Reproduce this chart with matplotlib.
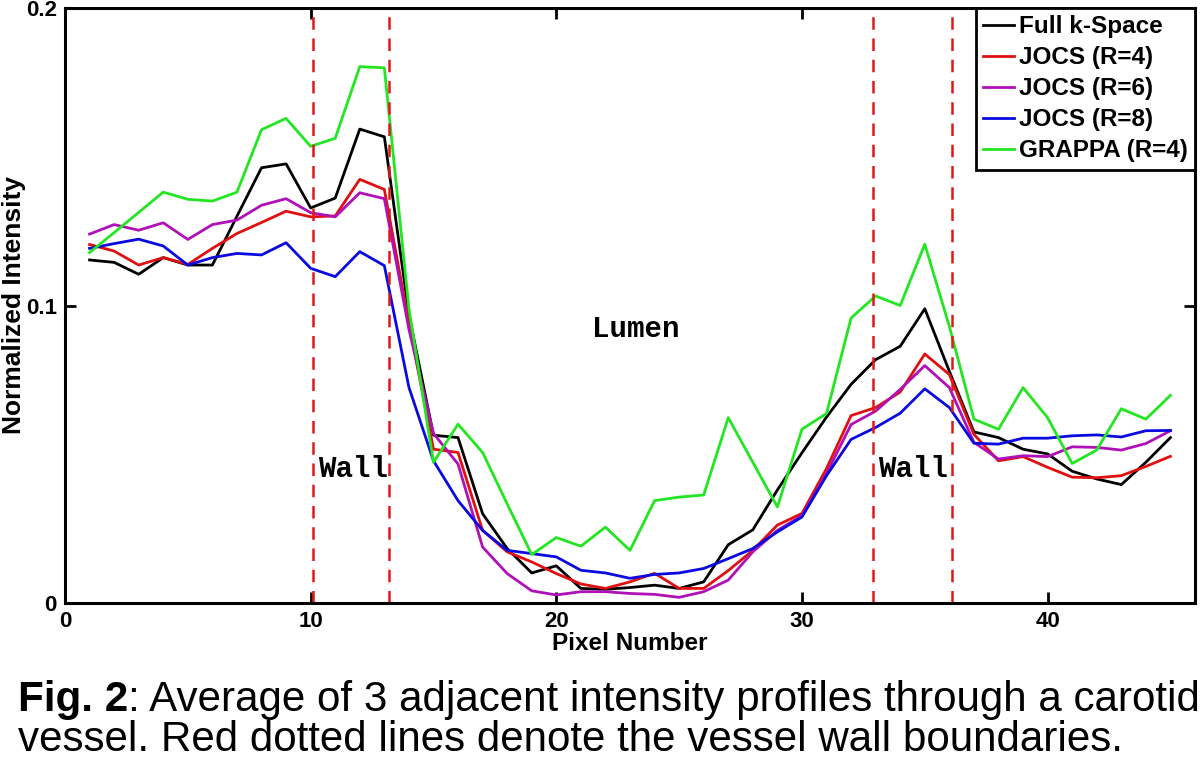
import matplotlib
matplotlib.use("Agg")
import matplotlib.pyplot as plt
import numpy as np

pixels = list(range(1, 46))
full_kspace = [0.1153, 0.1145, 0.1105, 0.1161, 0.1136, 0.1136, 0.1300, 0.1463, 0.1476, 0.1328,
               0.1361, 0.1593, 0.1567, 0.0970, 0.0564, 0.0556, 0.0300, 0.0183, 0.0101, 0.0125,
               0.0049, 0.0046, 0.0052, 0.0060, 0.0049, 0.0071, 0.0196, 0.0246, 0.0380, 0.0505,
               0.0625, 0.0735, 0.0818, 0.0863, 0.0989, 0.0779, 0.0575, 0.0556, 0.0517, 0.0501,
               0.0443, 0.0417, 0.0398, 0.0473, 0.0556]
jocs_r4 = [0.1205, 0.1183, 0.1136, 0.1161, 0.1138, 0.1192, 0.1242, 0.1279, 0.1317, 0.1298,
           0.1301, 0.1424, 0.1390, 0.0940, 0.0517, 0.0506, 0.0244, 0.0172, 0.0138, 0.0099,
           0.0064, 0.0049, 0.0071, 0.0100, 0.0049, 0.0049, 0.0109, 0.0177, 0.0262, 0.0301,
           0.0452, 0.0630, 0.0657, 0.0709, 0.0837, 0.0768, 0.0567, 0.0478, 0.0492, 0.0456,
           0.0423, 0.0421, 0.0428, 0.0459, 0.0493]
jocs_r6 = [0.1240, 0.1272, 0.1253, 0.1278, 0.1222, 0.1272, 0.1287, 0.1337, 0.1359, 0.1312,
           0.1298, 0.1379, 0.1359, 0.0920, 0.0570, 0.0467, 0.0188, 0.0099, 0.0041, 0.0027,
           0.0038, 0.0038, 0.0032, 0.0029, 0.0019, 0.0038, 0.0077, 0.0172, 0.0244, 0.0294,
           0.0435, 0.0600, 0.0645, 0.0718, 0.0798, 0.0724, 0.0540, 0.0484, 0.0495, 0.0492,
           0.0525, 0.0523, 0.0514, 0.0536, 0.0579]
jocs_r8 = [0.1192, 0.1208, 0.1223, 0.1200, 0.1136, 0.1161, 0.1175, 0.1170, 0.1211, 0.1125,
           0.1097, 0.1181, 0.1134, 0.0725, 0.0478, 0.0344, 0.0244, 0.0177, 0.0166, 0.0155,
           0.0110, 0.0101, 0.0083, 0.0096, 0.0101, 0.0116, 0.0149, 0.0183, 0.0239, 0.0289,
           0.0428, 0.0550, 0.0590, 0.0638, 0.0720, 0.0657, 0.0537, 0.0534, 0.0554, 0.0554,
           0.0562, 0.0565, 0.0558, 0.0579, 0.0580]
grappa_r4 = [0.1178, 0.1245, 0.1313, 0.1381, 0.1357, 0.1351, 0.1381, 0.1591, 0.1629, 0.1535,
             0.1562, 0.1803, 0.1799, 0.0990, 0.0473, 0.0601, 0.0506, 0.0333, 0.0163, 0.0220,
             0.0191, 0.0255, 0.0177, 0.0344, 0.0356, 0.0363, 0.0623, 0.0473, 0.0323, 0.0584,
             0.0637, 0.0958, 0.1032, 0.1000, 0.1206, 0.0930, 0.0618, 0.0584, 0.0724, 0.0623,
             0.0469, 0.0514, 0.0653, 0.0618, 0.0698]

series_labels = ["Full k-Space", "JOCS (R=4)", "JOCS (R=6)", "JOCS (R=8)", "GRAPPA (R=4)"]
series_colors = ["#000000", "#e01010", "#b010b8", "#0a0ae0", "#22e622"]
wall_bounds = [10.1, 13.2, 32.9, 36.1]
xticks = [0, 10, 20, 30, 40]
yticks = [0, 0.1, 0.2]
ytick_labels = ["0", "0.1", "0.2"]

sans = ["Liberation Sans", "DejaVu Sans"]
mono = ["Liberation Mono", "DejaVu Sans Mono"]

fig = plt.figure(figsize=(12, 7.59), dpi=100)
ax = fig.add_axes([65/1200, (759-603)/759, 1130/1200, 595/759])

series = [full_kspace, jocs_r4, jocs_r6, jocs_r8, grappa_r4]
for vals, lab, col in zip(series, series_labels, series_colors):
    ax.plot(pixels, vals, color=col, lw=2.0, label=lab)

for xb in wall_bounds:
    ax.axvline(xb, color="#e01818", lw=1.8, ls=(0, (5, 3.5)))

ax.text(10.3, 0.0452, "Wall", family=mono, fontsize=21, fontweight="bold", va="center", ha="left")
ax.text(33.1, 0.0452, "Wall", family=mono, fontsize=21, fontweight="bold", va="center", ha="left")
ax.text(21.45, 0.0920, "Lumen", family=mono, fontsize=21, fontweight="bold", va="center", ha="left")

ax.set_xlim(0, 46)
ax.set_ylim(0, 0.2)
ax.set_xticks(xticks)
ax.set_xticklabels([str(t) for t in xticks], family=sans, fontweight="bold", fontsize=16)
ax.set_yticks(yticks)
ax.set_yticklabels(ytick_labels, family=sans, fontweight="bold", fontsize=16)
ax.tick_params(direction="in", length=8, width=2, top=True, right=True, pad=6)
for s in ax.spines.values():
    s.set_linewidth(2.2)

ax.set_xlabel("Pixel Number", family=sans, fontweight="bold", fontsize=17.5, labelpad=0)
ax.set_ylabel("Normalized Intensity", family=sans, fontweight="bold", fontsize=19, labelpad=0)

leg = ax.legend(loc="upper right", prop={"family": sans, "weight": "bold", "size": 17.5},
                handlelength=1.3, handletextpad=0.18, borderaxespad=0, labelspacing=0.33,
                borderpad=0.3, fancybox=False, framealpha=1, edgecolor="black")
leg.get_frame().set_linewidth(2)

cap_size = 30.3
t1 = fig.text(18/1200, 1 - 711/759, "Fig. 2", family=sans, fontweight="bold", fontsize=cap_size, va="baseline")
fig.canvas.draw()
bb = t1.get_window_extent()
fig.text(bb.x1/1200, 1 - 711/759, ": Average of 3 adjacent intensity profiles through a carotid",
         family=sans, fontsize=cap_size, va="baseline")
fig.text(18/1200, 1 - 751/759, "vessel. Red dotted lines denote the vessel wall boundaries.",
         family=sans, fontsize=cap_size, va="baseline")

fig.savefig("out.png", dpi=100)
